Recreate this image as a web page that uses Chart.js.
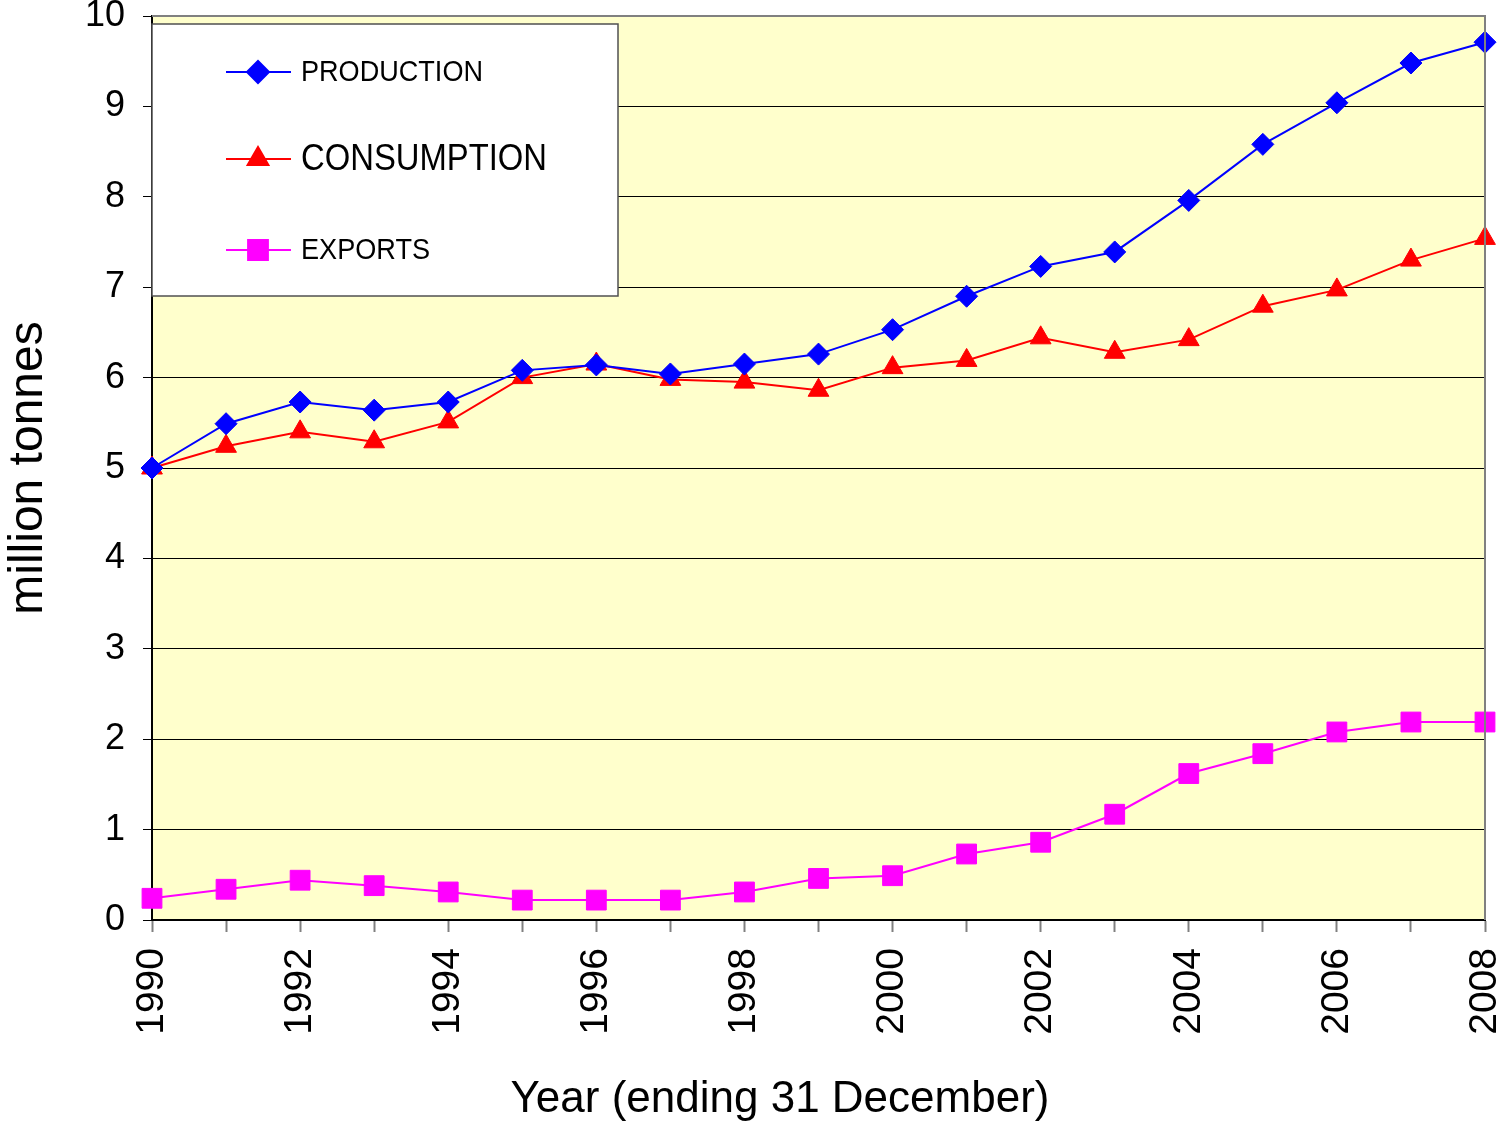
<!DOCTYPE html>
<html>
<head>
<meta charset="utf-8">
<script src="https://cdn.jsdelivr.net/npm/chart.js@4.4.1/dist/chart.umd.min.js"></script>
<style>
html,body{margin:0;padding:0;background:#fff;}
canvas{display:block;}
</style>
</head>
<body>
<canvas id="c" width="1501" height="1125"></canvas>
<script>
const years = ['1990','1991','1992','1993','1994','1995','1996','1997','1998','1999','2000','2001','2002','2003','2004','2005','2006','2007','2008'];
const production = [5.0,5.49,5.73,5.64,5.73,6.08,6.14,6.04,6.15,6.26,6.53,6.90,7.23,7.39,7.96,8.58,9.04,9.48,9.71];
const consumption = [5.0,5.24,5.40,5.29,5.51,6.00,6.15,5.98,5.95,5.86,6.11,6.19,6.44,6.28,6.42,6.79,6.97,7.30,7.54];
const exportsData = [0.24,0.34,0.44,0.38,0.31,0.22,0.22,0.22,0.31,0.46,0.49,0.73,0.86,1.17,1.62,1.84,2.08,2.19,2.19];
const seriesNames = ['PRODUCTION','CONSUMPTION','EXPORTS'];
const yTitle = 'million tonnes';
const xTitle = 'Year (ending 31 December)';

const FONT = '"Liberation Sans", Arial, sans-serif';

const bgPlugin = {
  id: 'bg',
  beforeDraw(chart) {
    const {ctx, chartArea: a} = chart;
    ctx.save();
    ctx.fillStyle = '#FFFFCC';
    ctx.fillRect(a.left, a.top, a.right - a.left, a.bottom - a.top);
    ctx.restore();
  },
  afterDatasetsDraw(chart) {
    const {ctx, chartArea: a} = chart;
    ctx.save();
    ctx.strokeStyle = '#808080';
    ctx.lineWidth = 2;
    ctx.beginPath();
    ctx.moveTo(a.left, a.top);
    ctx.lineTo(a.right, a.top);
    ctx.lineTo(a.right, a.bottom);
    ctx.stroke();
    ctx.restore();
  }
};

const legendPlugin = {
  id: 'customLegend',
  afterDraw(chart) {
    const {ctx, chartArea: a} = chart;
    const x0 = a.left, y0 = a.top + 8, w = 466, h = 272;
    ctx.save();
    ctx.fillStyle = '#ffffff';
    ctx.fillRect(x0, y0, w, h);
    ctx.strokeStyle = '#505050';
    ctx.lineWidth = 1.5;
    ctx.strokeRect(x0, y0, w, h);
    const rows = [
      {y: 72, size: 30, maxW: 182},
      {y: 159, size: 37, maxW: 246},
      {y: 250, size: 30, maxW: 129}
    ];
    chart.data.datasets.forEach((ds, i) => {
      const r = rows[i];
      ctx.strokeStyle = ds.borderColor;
      ctx.lineWidth = 2;
      ctx.beginPath();
      ctx.moveTo(226, r.y);
      ctx.lineTo(291, r.y);
      ctx.stroke();
      Chart.helpers.drawPoint(ctx, {
        pointStyle: ds.pointStyle, radius: ds.pointRadius, borderWidth: 1
      }, 258, r.y);
      ctx.fillStyle = ds.pointBackgroundColor;
      ctx.fill();
      ctx.fillStyle = '#000';
      ctx.font = r.size + 'px ' + FONT;
      ctx.textBaseline = 'middle';
      ctx.textAlign = 'left';
      ctx.fillText(ds.label, 301, r.y + 1, r.maxW);
    });
    // x axis title
    ctx.font = '44px ' + FONT;
    ctx.textAlign = 'center';
    ctx.textBaseline = 'middle';
    ctx.fillText(xTitle, 780, 1100, 540);
    ctx.restore();
  }
};

function mkDs(label, data, color, style, radius) {
  return {
    label, data,
    borderColor: color, backgroundColor: color,
    pointBackgroundColor: color, pointBorderColor: color,
    pointStyle: style, pointRadius: radius, pointHoverRadius: radius,
    borderWidth: 2, pointBorderWidth: 1, tension: 0, clip: false
  };
}

new Chart(document.getElementById('c'), {
  type: 'line',
  data: {
    labels: years,
    datasets: [
      mkDs(seriesNames[0], production, '#0000FF', 'rectRot', 11),
      mkDs(seriesNames[1], consumption, '#FF0000', 'triangle', 12),
      mkDs(seriesNames[2], exportsData, '#FF00FF', 'rect', 14)
    ]
  },
  options: {
    responsive: false,
    animation: false,
    devicePixelRatio: 1,
    layout: {padding: {top: 16, right: 16, left: 0, bottom: 0}},
    plugins: {legend: {display: false}, tooltip: {enabled: false}},
    scales: {
      x: {
        offset: false,
        afterFit(s) { s.height = 205; s.paddingLeft = 0; s.paddingRight = 0; s.paddingTop = 0; s.paddingBottom = 0; },
        grid: {drawOnChartArea: false, drawTicks: true, tickLength: 12, tickColor: '#808080', tickWidth: 2},
        border: {color: '#000', width: 2},
        ticks: {
          autoSkip: false, maxRotation: 90, minRotation: 90, padding: 16,
          color: '#000', font: {family: FONT, size: 39},
          callback(v, i) { const y = years[i]; return (parseInt(y) % 2 === 0) ? y : ''; }
        },
        title: {display: false}
      },
      y: {
        min: 0, max: 10,
        afterFit(s) { s.width = 152; s.paddingTop = 0; s.paddingBottom = 0; s.paddingLeft = 0; s.paddingRight = 0; },
        grid: {
          color(c) { return c.tick.value === 10 ? 'rgba(0,0,0,0)' : '#000'; },
          lineWidth: 1, tickLength: 9, tickColor: '#000', drawTicks: true
        },
        border: {color: '#000', width: 2},
        ticks: {stepSize: 1, padding: 18, color: '#000', font: {family: FONT, size: 36}},
        title: {display: true, text: yTitle, color: '#000', font: {family: FONT, size: 48}, padding: {top: 0, bottom: 0}}
      }
    }
  },
  plugins: [bgPlugin, legendPlugin]
});
</script>
</body>
</html>
